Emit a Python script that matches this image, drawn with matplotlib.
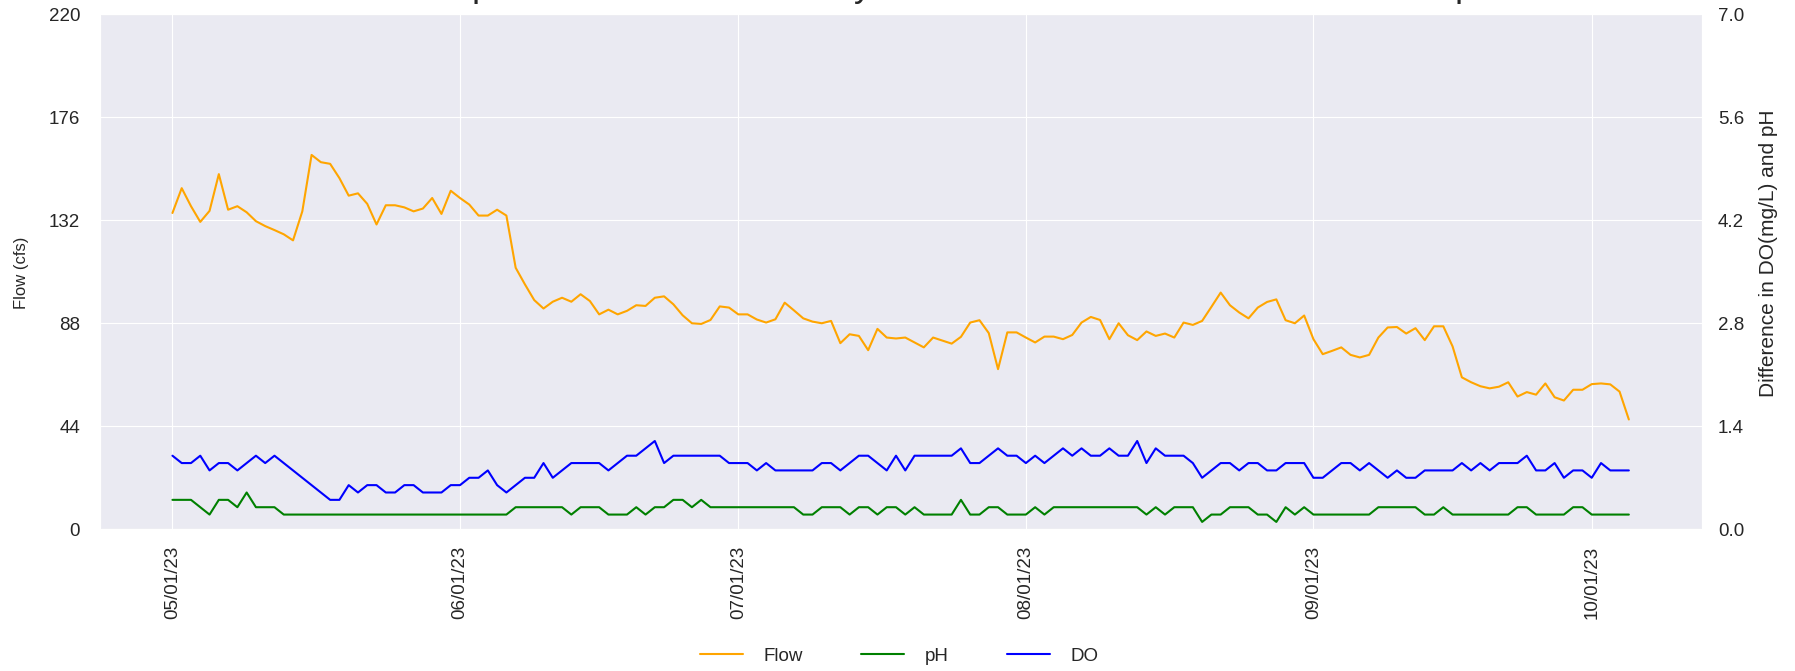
import numpy as np
import pandas as pd
import matplotlib
matplotlib.use("Agg")
import matplotlib.pyplot as plt
import matplotlib.dates as mdates
import matplotlib.ticker as mticker
import seaborn as sns

# daily readings, 05/01/23 - 10/05/23
dates = pd.date_range("2023-05-01", "2023-10-05", freq="D")

flow = [135.1, 145.7, 138.0, 131.3, 136.0, 151.7, 136.5, 138.0, 135.4, 131.6,
        129.5, 127.8, 126.0, 123.4, 135.8, 159.9, 156.8, 156.1, 150.0, 142.5,
        143.5, 139.0, 130.2, 138.4, 138.4, 137.5, 135.8, 137.0, 141.5, 134.7,
        144.6, 141.5, 138.7, 134.0, 134.0, 136.5, 134.0, 111.7, 104.6, 97.9,
        94.3, 97.2, 98.9, 97.2, 100.4, 97.5, 91.8, 93.8, 91.8, 93.3,
        95.7, 95.4, 98.9, 99.5, 96.1, 91.4, 88.0, 87.7, 89.4, 95.2,
        94.7, 91.8, 91.8, 89.6, 88.3, 89.7, 96.8, 93.5, 90.1, 88.7,
        88.0, 89.0, 79.5, 83.3, 82.6, 76.5, 85.6, 81.9, 81.5, 81.9,
        79.8, 77.7, 81.9, 80.6, 79.3, 82.2, 88.3, 89.3, 83.8, 68.4,
        84.1, 84.1, 81.9, 79.8, 82.3, 82.3, 81.2, 83.0, 88.3, 90.7,
        89.4, 81.2, 88.0, 82.9, 80.8, 84.5, 82.6, 83.6, 81.9, 88.3,
        87.3, 89.0, 95.0, 101.1, 95.7, 92.6, 90.1, 94.7, 97.1, 98.2,
        89.3, 88.0, 91.3, 81.2, 74.8, 76.2, 77.7, 74.5, 73.4, 74.5,
        81.9, 86.2, 86.4, 83.6, 85.9, 80.8, 86.7, 86.7, 78.1, 64.9,
        62.8, 61.1, 60.2, 60.9, 62.8, 56.7, 58.6, 57.5, 62.3, 56.4,
        55.0, 59.6, 59.6, 62.0, 62.3, 61.9, 58.8, 46.9]

ph = [0.4, 0.4, 0.4, 0.3, 0.2, 0.4, 0.4, 0.3, 0.5, 0.3,
      0.3, 0.3, 0.2, 0.2, 0.2, 0.2, 0.2, 0.2, 0.2, 0.2,
      0.2, 0.2, 0.2, 0.2, 0.2, 0.2, 0.2, 0.2, 0.2, 0.2,
      0.2, 0.2, 0.2, 0.2, 0.2, 0.2, 0.2, 0.3, 0.3, 0.3,
      0.3, 0.3, 0.3, 0.2, 0.3, 0.3, 0.3, 0.2, 0.2, 0.2,
      0.3, 0.2, 0.3, 0.3, 0.4, 0.4, 0.3, 0.4, 0.3, 0.3,
      0.3, 0.3, 0.3, 0.3, 0.3, 0.3, 0.3, 0.3, 0.2, 0.2,
      0.3, 0.3, 0.3, 0.2, 0.3, 0.3, 0.2, 0.3, 0.3, 0.2,
      0.3, 0.2, 0.2, 0.2, 0.2, 0.4, 0.2, 0.2, 0.3, 0.3,
      0.2, 0.2, 0.2, 0.3, 0.2, 0.3, 0.3, 0.3, 0.3, 0.3,
      0.3, 0.3, 0.3, 0.3, 0.3, 0.2, 0.3, 0.2, 0.3, 0.3,
      0.3, 0.1, 0.2, 0.2, 0.3, 0.3, 0.3, 0.2, 0.2, 0.1,
      0.3, 0.2, 0.3, 0.2, 0.2, 0.2, 0.2, 0.2, 0.2, 0.2,
      0.3, 0.3, 0.3, 0.3, 0.3, 0.2, 0.2, 0.3, 0.2, 0.2,
      0.2, 0.2, 0.2, 0.2, 0.2, 0.3, 0.3, 0.2, 0.2, 0.2,
      0.2, 0.3, 0.3, 0.2, 0.2, 0.2, 0.2, 0.2]

do = [1.0, 0.9, 0.9, 1.0, 0.8, 0.9, 0.9, 0.8, 0.9, 1.0,
      0.9, 1.0, 0.9, 0.8, 0.7, 0.6, 0.5, 0.4, 0.4, 0.6,
      0.5, 0.6, 0.6, 0.5, 0.5, 0.6, 0.6, 0.5, 0.5, 0.5,
      0.6, 0.6, 0.7, 0.7, 0.8, 0.6, 0.5, 0.6, 0.7, 0.7,
      0.9, 0.7, 0.8, 0.9, 0.9, 0.9, 0.9, 0.8, 0.9, 1.0,
      1.0, 1.1, 1.2, 0.9, 1.0, 1.0, 1.0, 1.0, 1.0, 1.0,
      0.9, 0.9, 0.9, 0.8, 0.9, 0.8, 0.8, 0.8, 0.8, 0.8,
      0.9, 0.9, 0.8, 0.9, 1.0, 1.0, 0.9, 0.8, 1.0, 0.8,
      1.0, 1.0, 1.0, 1.0, 1.0, 1.1, 0.9, 0.9, 1.0, 1.1,
      1.0, 1.0, 0.9, 1.0, 0.9, 1.0, 1.1, 1.0, 1.1, 1.0,
      1.0, 1.1, 1.0, 1.0, 1.2, 0.9, 1.1, 1.0, 1.0, 1.0,
      0.9, 0.7, 0.8, 0.9, 0.9, 0.8, 0.9, 0.9, 0.8, 0.8,
      0.9, 0.9, 0.9, 0.7, 0.7, 0.8, 0.9, 0.9, 0.8, 0.9,
      0.8, 0.7, 0.8, 0.7, 0.7, 0.8, 0.8, 0.8, 0.8, 0.9,
      0.8, 0.9, 0.8, 0.9, 0.9, 0.9, 1.0, 0.8, 0.8, 0.9,
      0.7, 0.8, 0.8, 0.7, 0.9, 0.8, 0.8, 0.8]

sns.set_style("darkgrid")
plt.rcParams["font.family"] = ["Liberation Sans", "DejaVu Sans"]

fig = plt.figure(figsize=(17.95, 6.71), dpi=100)
ax = fig.add_axes([0.0555, 0.2112, 0.8925, 0.7676])
ax2 = ax.twinx()

l1, = ax.plot(dates, flow, color="orange", lw=1.5, label="Flow")
l2, = ax2.plot(dates, ph, color="green", lw=1.5, label="pH")
l3, = ax2.plot(dates, do, color="blue", lw=1.5, label="DO")

ax.set_ylim(0, 220)
ax.set_yticks(np.arange(0, 221, 44))
ax2.set_ylim(0, 7)
ax2.set_yticks(np.arange(0, 7.01, 1.4))
ax2.yaxis.set_major_formatter(mticker.FormatStrFormatter("%.1f"))
ax2.grid(False)

ax.xaxis.set_major_locator(mdates.MonthLocator())
ax.xaxis.set_major_formatter(mdates.DateFormatter("%m/%d/%y"))
plt.setp(ax.get_xticklabels(), rotation=90)

ax.tick_params(axis="x", labelsize=13.5, pad=8.4)
ax.tick_params(axis="y", labelsize=13.5, pad=14.1, length=0)
ax2.tick_params(axis="y", labelsize=13.5, pad=11.7, length=0)

ax.set_ylabel("Flow (cfs)", fontsize=12)
ax.yaxis.set_label_coords(-0.044, 0.497)
ax2.set_ylabel("Difference in DO(mg/L) and pH", fontsize=15)
ax2.yaxis.set_label_coords(1.036, 0.536)

# title sits mostly above the canvas, only descenders show
fig.text(396.6 / 1795, 1 + 3.7 / 671,
         "Comparison of Flow and Daily Difference in DO Concentration and pH",
         fontsize=25.7, ha="left", va="baseline")

fig.legend(handles=[l1, l2, l3], loc="center", bbox_to_anchor=(899 / 1795, 1 - 656 / 671),
           ncol=3, frameon=False, fontsize=13.5, handlelength=2.3, handletextpad=1.1,
           columnspacing=3.1)

fig.savefig("out.png", dpi=100)
